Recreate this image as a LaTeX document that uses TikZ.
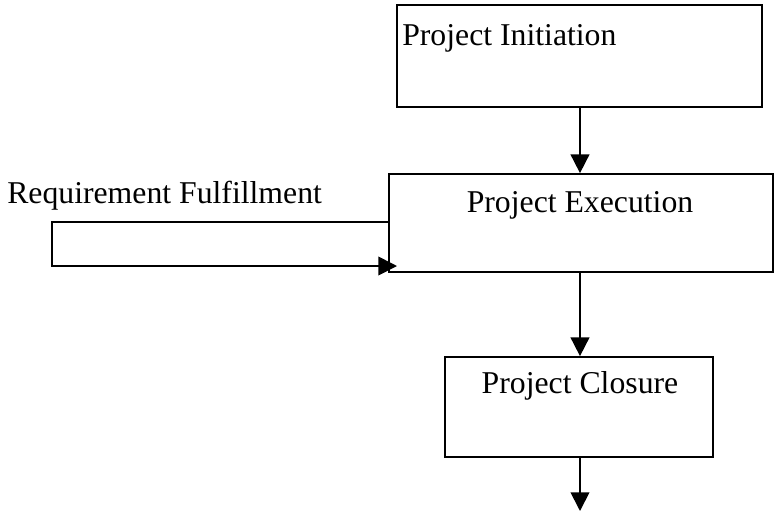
\documentclass[tikz,border=0pt]{standalone}
\usepackage{fontspec}
\setmainfont{Liberation Serif}
\usetikzlibrary{arrows.meta}

\tikzset{
    stage/.style={draw, line width=1.3pt, minimum width=#1, inner sep=0pt},
    flow/.style={line width=1.3pt, -{Triangle[length=14pt, width=14pt]}},
    caption/.style={font=\fontsize{23.8pt}{27pt}\selectfont, inner sep=0pt}
}

\begin{document}
\begin{tikzpicture}[x=0.75pt, y=-0.75pt]
            \useasboundingbox (0,0) rectangle (775,512);
            % Boxes
            \node[stage=273.75pt, minimum height=76.5pt] (init) at (579.5,56) {};
            \node[stage=288pt, minimum height=73.5pt] (exec) at (581,223) {};
            \node[stage=201pt, minimum height=75pt] (close) at (579,407) {};
            % Box texts
            \node[caption, anchor=base west] (initText) at (402,45) {Project Initiation};
            \node[caption, anchor=base] (execText) at (580,212) {Project Execution};
            \node[caption, anchor=base] (closeText) at (580,393) {Project Closure};
            \node[caption, anchor=base west] (reqText) at (7,203) {Requirement Fulfillment};
            % Arrows down
            \coordinate (initOut) at (init.south -| 580,0);
            \coordinate (execIn) at (exec.north -| 580,0);
            \coordinate (execOut) at (exec.south -| 580,0);
            \coordinate (closeIn) at (close.north -| 580,0);
            \coordinate (closeOut) at (close.south -| 580,0);
            \coordinate (endPt) at (580,511);
            \draw[flow] (initOut) -- (execIn);
            \draw[flow] (execOut) -- (closeIn);
            \draw[flow] (closeOut) -- (endPt);
            % Feedback loop
            \coordinate (loopIn) at (397,266);
            \draw[flow] (exec.west |- 0,222) -- (52,222) |- (loopIn);
        \end{tikzpicture}
\end{document}
